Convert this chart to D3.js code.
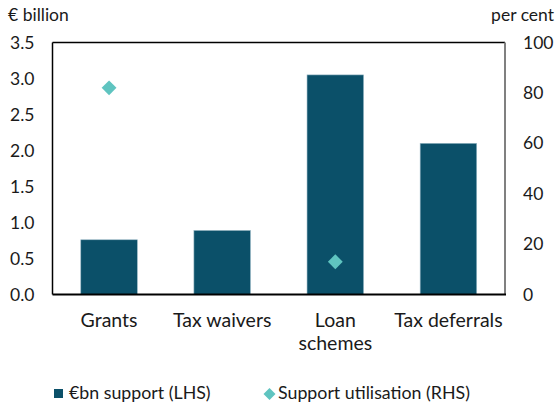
<!DOCTYPE html>
<html><head><meta charset="utf-8">
<script src="https://cdn.jsdelivr.net/npm/d3@7"></script>
<style>body{margin:0;background:#fff}svg{display:block}text{font-family:Lato,sans-serif;fill:#1a1a1a}</style>
</head><body><svg id="c" width="558" height="406"></svg>
<script>
const categories = ["Grants", "Tax waivers", "Loan|schemes", "Tax deferrals"];
const supportBn = [0.76, 0.89, 3.05, 2.10];
const utilisation = [82, null, 13, null];
const leftTicks = [0, 0.5, 1.0, 1.5, 2.0, 2.5, 3.0, 3.5];
const rightTicks = [0, 20, 40, 60, 80, 100];

const svg = d3.select("#c");
const L = 52.5, R = 505, T = 42.5, B = 294.5;
const x = d3.scaleBand().domain(categories).range([L, R]).paddingInner(0.5).paddingOuter(0.25);
const yL = d3.scaleLinear().domain([0, 3.5]).range([B, T]);
const yR = d3.scaleLinear().domain([0, 100]).range([B, T]);
const barColor = "#0b5069", dotColor = "#5fc4c0";

// bars
svg.append("g").selectAll("rect").data(supportBn).join("rect")
  .attr("x", (d, i) => x(categories[i]))
  .attr("width", x.bandwidth())
  .attr("y", d => yL(d))
  .attr("height", d => B - yL(d))
  .attr("fill", barColor)
  .attr("stroke", "#9ab9c6").attr("stroke-width", 0.6);

// frame
svg.append("line").attr("x1", L).attr("x2", L).attr("y1", T).attr("y2", B).attr("stroke", "#000").attr("stroke-width", 1.5);
svg.append("line").attr("x1", L).attr("x2", R).attr("y1", T).attr("y2", T).attr("stroke", "#000").attr("stroke-width", 1.5);
svg.append("line").attr("x1", R).attr("x2", R).attr("y1", T).attr("y2", B).attr("stroke", "#808080").attr("stroke-width", 2);
svg.append("line").attr("x1", L).attr("x2", R + 1).attr("y1", B).attr("y2", B).attr("stroke", "#000").attr("stroke-width", 2);

// diamonds
const diamond = d3.symbol().type(d3.symbolSquare).size(110);
svg.append("g").selectAll("path").data(utilisation.map((v, i) => ({v, c: categories[i]})).filter(d => d.v != null)).join("path")
  .attr("d", diamond)
  .attr("transform", d => `translate(${x(d.c) + x.bandwidth() / 2},${yR(d.v)}) rotate(45)`)
  .attr("fill", dotColor);

// left axis
const fs = 17.5;
svg.append("g").attr("transform", `translate(${L},0)`)
  .call(d3.axisLeft(yL).tickValues(leftTicks).tickFormat(d3.format(".1f")).tickSize(0).tickPadding(18))
  .call(g => g.select(".domain").remove())
  .call(g => g.selectAll("text").attr("font-size", fs).attr("font-family", "Lato").attr("fill", "#1a1a1a"));
// right axis
svg.append("g").attr("transform", `translate(${R},0)`)
  .call(d3.axisRight(yR).tickValues(rightTicks).tickSize(0).tickPadding(18))
  .call(g => g.select(".domain").remove())
  .call(g => g.selectAll("text").attr("font-size", fs).attr("font-family", "Lato").attr("fill", "#1a1a1a"));

// axis titles
svg.append("text").attr("x", 8).attr("y", 21).attr("font-size", fs).text("€ billion");
svg.append("text").attr("x", 554).attr("y", 21).attr("text-anchor", "end").attr("font-size", fs).text("per cent");

// category labels
const cfs = 19.5;
const xa = svg.append("g");
categories.forEach(c => {
  const t = xa.append("text").attr("x", x(c) + x.bandwidth() / 2).attr("y", 327).attr("text-anchor", "middle").attr("font-size", cfs);
  c.split("|").forEach((line, j) => t.append("tspan").attr("x", x(c) + x.bandwidth() / 2).attr("dy", j ? 23 : 0).text(line));
});

// legend
const lfs = 17.8;
svg.append("rect").attr("x", 54).attr("y", 389).attr("width", 9).attr("height", 9).attr("fill", barColor);
svg.append("text").attr("x", 69).attr("y", 399).attr("font-size", lfs).text("€bn support (LHS)");
svg.append("path").attr("d", d3.symbol().type(d3.symbolSquare).size(72)).attr("transform", `translate(269.5,394) rotate(45)`).attr("fill", dotColor);
svg.append("text").attr("x", 278).attr("y", 399).attr("font-size", lfs).text("Support utilisation (RHS)");
</script></body></html>
